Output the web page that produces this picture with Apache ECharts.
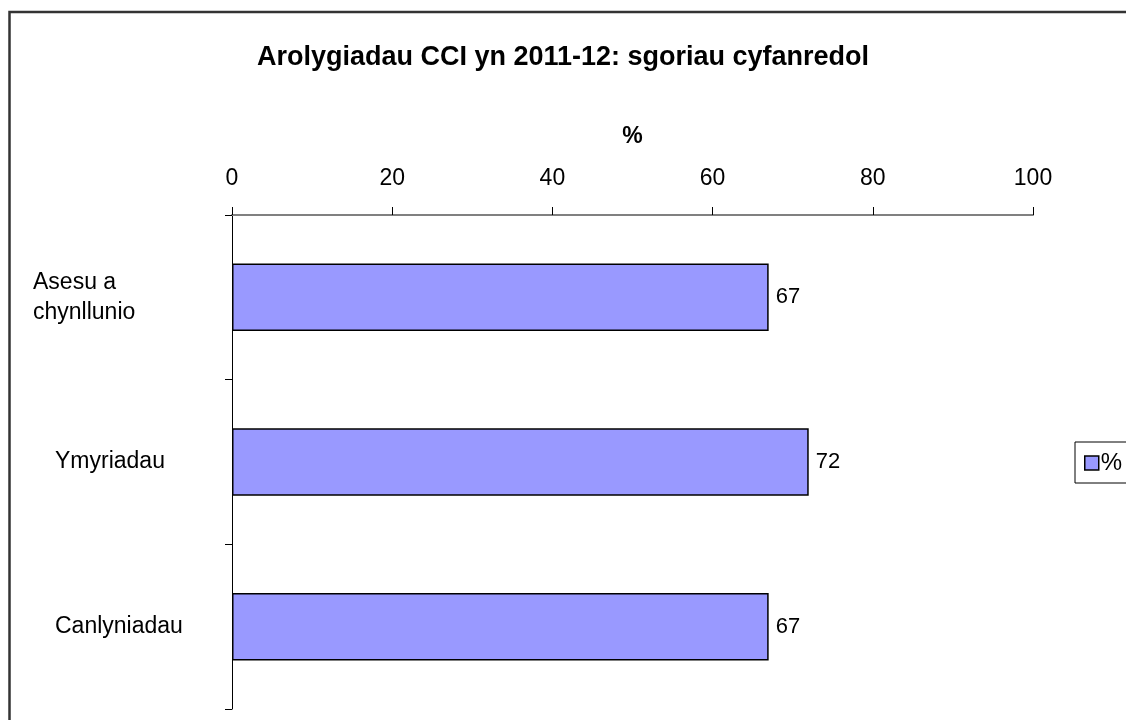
<!DOCTYPE html>
<html>
<head>
<meta charset="utf-8">
<script src="https://cdn.jsdelivr.net/npm/echarts@6/dist/echarts.min.js"></script>
<style>
  html, body { margin: 0; padding: 0; background: #fff; }
  #chart { width: 1126px; height: 720px; }
</style>
</head>
<body>
<div id="chart"></div>
<script>
  // data
  const categories = ['Asesu a\nchynllunio', 'Ymyriadau', 'Canlyniadau'];
  const labelShift = [0, 22, 22]; // extra left padding of each category label
  const scores = [67, 72, 67];
  const seriesName = '%';
  const titleText = 'Arolygiadau CCI yn 2011-12: sgoriau cyfanredol';

  const chart = echarts.init(document.getElementById('chart'));
  const font = 'Liberation Sans, Arial, sans-serif';

  const option = {
    animation: false,
    textStyle: { fontFamily: font },
    title: {
      text: titleText,
      left: 'center',
      top: 39,
      textStyle: { fontSize: 27, fontWeight: 'bold', color: '#000', fontFamily: font },
    },
    legend: {
      data: [{ name: seriesName, icon: 'rect' }],
      left: 1075,
      top: 442,
      orient: 'vertical',
      padding: [9, 30, 8, 9],
      itemWidth: 14,
      itemHeight: 14,
      borderColor: '#000',
      borderWidth: 1,
      textStyle: { fontSize: 24, color: '#000', padding: [-6, 0, 0, -3] },
      itemStyle: { borderColor: '#000', borderWidth: 1.5 },
    },
    grid: {
      left: 232,
      right: 93,
      top: 215,
      bottom: 11,
      containLabel: false,
      outerBoundsMode: 'none',
    },
    xAxis: {
      type: 'value',
      position: 'top',
      min: 0,
      max: 100,
      interval: 20,
      name: '%',
      nameLocation: 'middle',
      nameGap: 67,
      nameTextStyle: { fontSize: 23, fontWeight: 'bold', color: '#000' },
      axisLine: { show: true, lineStyle: { color: '#808080', width: 2 } },
      axisTick: { show: true, length: 8, lineStyle: { color: '#000', width: 1 } },
      axisLabel: { fontSize: 23, color: '#000', margin: 25 },
      splitLine: { show: false },
    },
    yAxis: {
      type: 'category',
      inverse: true,
      data: categories.map((c, i) => ({
        value: c,
        textStyle: {
          align: 'left',
          fontSize: 23,
          color: '#000',
          lineHeight: 30,
          padding: [0, 0, 0, labelShift[i]],
        },
      })),
      axisLine: { show: true, lineStyle: { color: '#000', width: 1 } },
      axisTick: { show: true, alignWithLabel: false, length: 7, lineStyle: { color: '#000' } },
      axisLabel: {
        fontSize: 23,
        color: '#000',
        align: 'left',
        margin: 199,
        lineHeight: 30,
      },
    },
    series: [
      {
        name: seriesName,
        type: 'bar',
        data: scores,
        barCategoryGap: '59%',
        itemStyle: { color: '#9999FF', borderColor: '#000', borderWidth: 1.5 },
        label: {
          show: true,
          position: 'right',
          distance: 7,
          fontSize: 22,
          color: '#000',
        },
      },
    ],
    graphic: [
      {
        type: 'rect',
        shape: { x: 9.5, y: 12, width: 1300, height: 900 },
        style: { fill: 'none', stroke: '#333', lineWidth: 2.5 },
        silent: true,
      },
    ],
  };

  chart.setOption(option);
</script>
</body>
</html>
